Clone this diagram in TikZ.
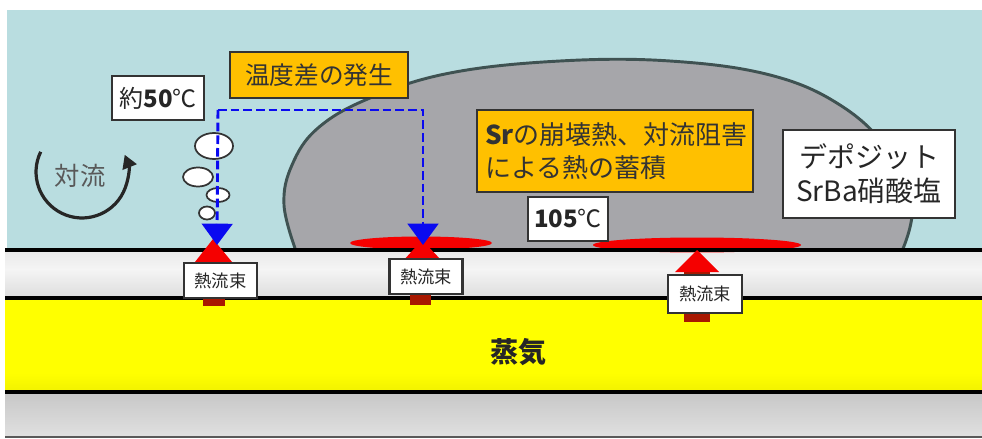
\documentclass[tikz,border=0pt]{standalone}
\usepackage{fontspec}
\setmainfont{Noto Sans CJK JP}
\usetikzlibrary{arrows.meta}

\definecolor{sky}{HTML}{B9DDE0}
\definecolor{deposit}{HTML}{A6A6AA}
\definecolor{depline}{HTML}{3F5252}
\definecolor{notice}{HTML}{FFC000}
\definecolor{boxline}{HTML}{333333}
\definecolor{heat}{HTML}{F50000}
\definecolor{heatdark}{HTML}{A81800}
\definecolor{flowblue}{HTML}{0A0AF0}

% steam band: bright yellow, darkening towards the lower wall
\pgfdeclareverticalshading{steamshade}{100bp}{
  color(0bp)=(black!30!yellow);
  color(8bp)=(black!22!yellow);
  color(20bp)=(black!8!yellow);
  color(35bp)=(yellow);
  color(92bp)=(yellow);
  color(100bp)=(black!5!yellow)}
% tube wall: light gray with a pale band in the middle
\pgfdeclareverticalshading{wallshade}{100bp}{
  color(0bp)=(black!22);
  color(30bp)=(black!12);
  color(55bp)=(black!4);
  color(80bp)=(black!10);
  color(100bp)=(black!18)}

\tikzset{
  labelbox/.style={draw=boxline, line width=1.8pt, fill=white, inner sep=0pt,
    align=center, text=black!85},
  notebox/.style={labelbox, fill=notice, text=black!80},
  fluxbox/.style={labelbox, line width=1.6pt, minimum width=54.75pt, minimum height=26.5pt,
    font=\fontsize{13}{15}\selectfont},
  bubble/.style={draw=black!80, line width=1.3pt, fill=white},
  flowline/.style={draw=flowblue, line width=2.2pt, dash pattern=on 6.5pt off 3pt},
  flowtip/.style={-{Triangle[width=23pt,length=16pt]}},
  wallline/.style={line width=3pt, black},
}

\begin{document}
\begin{tikzpicture}[x=0.75pt, y=-0.75pt]
\useasboundingbox (0,0) rectangle (982,439);
\fill[white] (0,0) rectangle (982,439);

% water space above the tube
\fill[sky] (7,10) rectangle (982,250);

% deposit layer
\draw[fill=deposit, draw=depline, line width=2.2pt]
  plot[smooth, tension=0.65] coordinates {(296,251) (284,205) (292,165) (318,128)
    (370,98) (450,73) (560,61) (670,61) (770,75) (840,105) (888,150) (912,205) (902,251)}
  -- cycle;

% tube wall
\shade[shading=wallshade] (5,250) rectangle (982,298);
% steam
\shade[shading=steamshade] (5,298) rectangle (982,392);
% lower wall
\shade[top color=black!22, bottom color=black!12] (5,392) rectangle (982,437);

% hot spots on the wall surface
\fill[heat] (421,243) ellipse [x radius=71, y radius=6.5];
\fill[heat] (697,245) ellipse [x radius=104, y radius=7.5];

% wall boundaries
\draw[wallline] (5,250) -- (982,250);
\draw[wallline] (5,298) -- (982,298);
\draw[line width=3.5pt, black] (5,392) -- (982,392);
\draw[line width=1.5pt, black!65] (5,437) -- (982,437);

% heat flux arrows through the wall
\fill[heatdark] (203,258) rectangle (225,306);
\fill[heat] (195,262) -- (213,239) -- (232,262) -- cycle;
\fill[heatdark] (410,255) rectangle (431,305);
\fill[heat] (403,261) -- (422,240) -- (442,261) -- cycle;
\fill[heatdark] (684,268) rectangle (710,322);
\fill[heat] (675,272) -- (697,250) -- (719,272) -- cycle;

\node[fluxbox] (f1) at (220.5,280.5) {熱流束};
\node[fluxbox] (f2) at (426,276.5) {熱流束};
\node[fluxbox, minimum width=55.5pt, minimum height=28.5pt] (f3) at (705,294) {熱流束};

% bubbles rising from the wall
\draw[bubble] (214,146) ellipse [x radius=19, y radius=13];
\draw[bubble] (198,177) ellipse [x radius=15, y radius=9.5];
\draw[bubble] (218,195) ellipse [x radius=11.5, y radius=7];
\draw[bubble] (207,213) ellipse [x radius=8, y radius=6.5];

% labels
\node[notebox, minimum width=133.5pt, minimum height=34.5pt,
  font=\fontsize{18.5}{20}\selectfont] (diff) at (319,75) {温度差の発生};
\node[labelbox, minimum width=69pt, minimum height=33pt,
  font=\fontsize{18}{20}\selectfont] (t50) at (158,98) {約\textbf{50}℃};
\node[notebox, minimum width=207pt, minimum height=61.5pt, text width=195pt, align=left,
  font=\fontsize{19.5}{25}\selectfont] (sr) at (615,151)
  {\textbf{Sr}の崩壊熱、対流阻害\\による熱の蓄積};
\node[labelbox, minimum width=60pt, minimum height=33pt,
  font=\fontsize{18}{20}\selectfont] (t105) at (568,219) {\textbf{105}℃};
\node[labelbox, minimum width=129pt, minimum height=66pt,
  font=\fontsize{21}{25.5}\selectfont] (dep) at (869,174) {デポジット\\SrBa硝酸塩};

% temperature difference paths
\coordinate (src) at (218,110);
\coordinate (bend) at (423,110);
\coordinate (hitA) at (217,245);
\coordinate (hitB) at (423,245);
\draw[flowline, flowtip] (src) -- (hitA);
\draw[flowline, flowtip] (src) -- (bend) -- (hitB);

% convection
\coordinate (cvstart) at (40.7,151.8);
\draw[line width=2.4pt, draw=black!85, -{Triangle[width=11pt,length=10pt]}]
  (cvstart) arc[start angle=206, end angle=-22, radius=46];
\node[text=black!65, font=\fontsize{19}{20}\selectfont] (conv) at (80,176) {対流};

% steam
\node[font=\fontsize{21}{22}\selectfont\bfseries, text=black!85] (steam) at (518,352) {蒸気};
\end{tikzpicture}
\end{document}
